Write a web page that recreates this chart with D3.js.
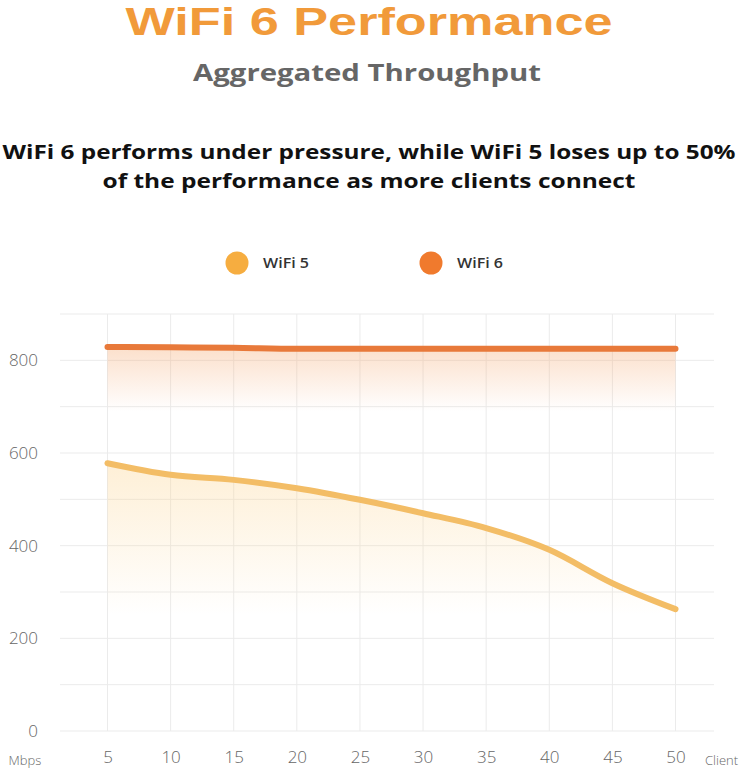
<!DOCTYPE html>
<html>
<head>
<meta charset="utf-8">
<script src="https://cdn.jsdelivr.net/npm/d3@7"></script>
<style>
  html, body { margin: 0; padding: 0; background: #fff; }
  svg { display: block; }
</style>
</head>
<body>
<svg id="chart" width="744" height="768"></svg>
<script>
const clients = [5, 10, 15, 20, 25, 30, 35, 40, 45, 50];
const wifi5 = [578, 553, 542, 524, 499, 470, 438, 391, 319, 263];
const wifi6 = [829, 828, 827, 825, 825, 825, 825, 825, 825, 825];
const yTicks = [0, 200, 400, 600, 800];
const yGrid = [0, 100, 200, 300, 400, 500, 600, 700, 800, 900];
const seriesNames = ["WiFi 5", "WiFi 6"];
const seriesColors = ["#f3bd66", "#e8793a"];
const legendColors = ["#f6ad40", "#f07a2d"];

const svg = d3.select("#chart");
const W = 744, H = 768;

const x = d3.scaleLinear().domain([5, 50]).range([107.5, 675.5]);
const y = d3.scaleLinear().domain([0, 900]).range([731, 314]);
const gridX0 = 60, gridX1 = 714;
const titleFont = "'Open Sans', Lato, sans-serif";

function fitText(sel, width) {
  const node = sel.node();
  const len = node.getComputedTextLength();
  if (len > 0) sel.attr("textLength", width).attr("lengthAdjust", "spacingAndGlyphs");
  return sel;
}

// Titles
fitText(svg.append("text").attr("x", W / 2 - 3).attr("y", 35).attr("text-anchor", "middle")
  .style("font-family", "'Liberation Sans', Arial, sans-serif").style("font-weight", 700)
  .style("font-size", "38px").attr("fill", "#f19a3a").text("WiFi 6 Performance"), 487);
fitText(svg.append("text").attr("x", 367).attr("y", 81).attr("text-anchor", "middle")
  .style("font-family", titleFont).style("font-weight", 700)
  .style("font-size", "24px").attr("fill", "#666").text("Aggregated Throughput"), 348);
const headline = ["WiFi 6 performs under pressure, while WiFi 5 loses up to 50%",
                  "of the performance as more clients connect"];
const headlineW = [733, 533];
headline.forEach((t, i) => {
  fitText(svg.append("text").attr("x", 369).attr("y", 159 + i * 29).attr("text-anchor", "middle")
    .style("font-family", titleFont).style("font-weight", 700)
    .style("font-size", "20px").attr("fill", "#111").text(t), headlineW[i]);
});

// Legend
const legendX = [237, 431];
seriesNames.forEach((n, i) => {
  svg.append("circle").attr("cx", legendX[i]).attr("cy", 263).attr("r", 11.5).attr("fill", legendColors[i]);
  fitText(svg.append("text").attr("x", legendX[i] + 26).attr("y", 268)
    .style("font-family", titleFont).style("font-weight", 600)
    .style("font-size", "14px").attr("fill", "#333").text(n), 46);
});

// Gradients
const defs = svg.append("defs");
function grad(id, color, y1, y2, op) {
  const g = defs.append("linearGradient").attr("id", id)
    .attr("gradientUnits", "userSpaceOnUse").attr("x1", 0).attr("x2", 0).attr("y1", y1).attr("y2", y2);
  g.append("stop").attr("offset", 0).attr("stop-color", color).attr("stop-opacity", op);
  g.append("stop").attr("offset", 1).attr("stop-color", color).attr("stop-opacity", 0);
}
grad("g6", "#f5a469", y(830), y(690), 0.35);
grad("g5", "#fcd28a", y(580), y(250), 0.35);

// Grid
const grid = svg.append("g");
grid.selectAll("line.h").data(yGrid).join("line")
  .attr("x1", gridX0).attr("x2", gridX1).attr("y1", d => y(d)).attr("y2", d => y(d))
  .attr("stroke", "#ebebeb").attr("stroke-width", 1);
grid.selectAll("line.v").data(clients).join("line")
  .attr("x1", d => x(d)).attr("x2", d => x(d)).attr("y1", y(900)).attr("y2", y(0))
  .attr("stroke", "#ebebeb").attr("stroke-width", 1);

// Areas
const area = vals => d3.area().x((d, i) => x(clients[i])).y0(y(0)).y1(d => y(d)).curve(d3.curveMonotoneX)(vals);
svg.append("path").attr("d", area(wifi6)).attr("fill", "url(#g6)");
svg.append("path").attr("d", area(wifi5)).attr("fill", "url(#g5)");

// Lines
const line = d3.line().x((d, i) => x(clients[i])).y(d => y(d)).curve(d3.curveMonotoneX);
[wifi5, wifi6].forEach((vals, i) => {
  svg.append("path").attr("d", line(vals)).attr("fill", "none")
    .attr("stroke", seriesColors[i]).attr("stroke-width", 6).attr("stroke-linecap", "round");
});

// Axes
const axisFont = "'Century Gothic', 'Open Sans', sans-serif";
const yAxis = svg.append("g").attr("transform", "translate(38,0)")
  .call(d3.axisLeft(y).tickValues(yTicks).tickSize(0).tickPadding(0));
yAxis.select(".domain").remove();
yAxis.selectAll("text").style("font-family", axisFont).style("font-weight", 300)
  .style("font-size", "17px").attr("fill", "#666");

const xAxis = svg.append("g").attr("transform", `translate(0,${y(0)})`)
  .call(d3.axisBottom(x).tickValues(clients).tickSize(0).tickPadding(20));
xAxis.select(".domain").remove();
xAxis.selectAll("text").style("font-family", axisFont).style("font-weight", 300)
  .style("font-size", "17px").attr("fill", "#666");

svg.append("text").attr("x", 25).attr("y", 765).attr("text-anchor", "middle")
  .style("font-family", axisFont).style("font-weight", 300).style("font-size", "13px")
  .attr("fill", "#666").text("Mbps");
svg.append("text").attr("x", 705).attr("y", 765)
  .style("font-family", axisFont).style("font-weight", 300).style("font-size", "13px")
  .attr("fill", "#666").text("Client");
</script>
</body>
</html>
